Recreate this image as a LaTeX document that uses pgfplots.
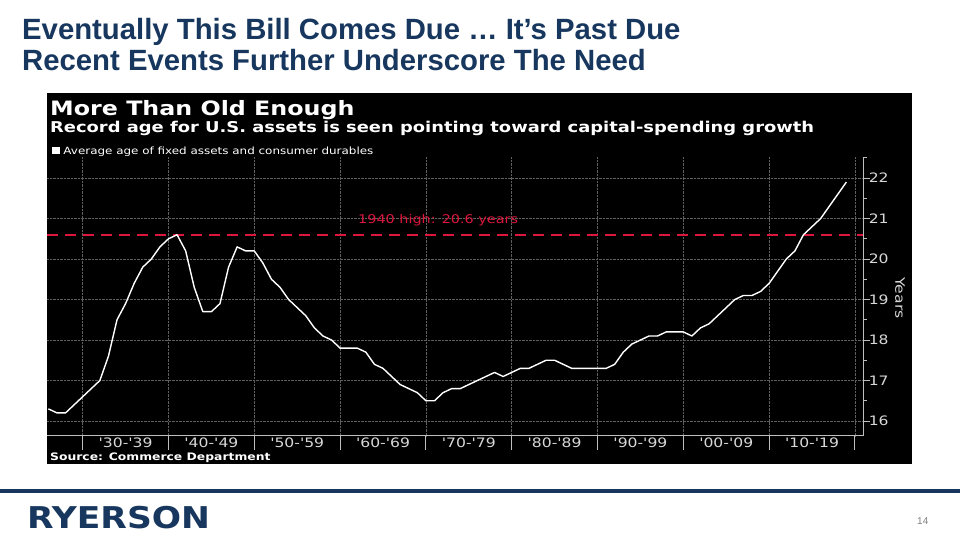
\documentclass[border=0pt]{standalone}
\usepackage{pgfplots}
\pgfplotsset{compat=1.18}
\usepackage{fontspec}
\setmainfont{Liberation Sans}
\newfontfamily\bbg{DejaVu Sans}[FakeStretch=1.2, Ligatures=TeXOff]
\newfontfamily\logo{DejaVu Sans}[FakeStretch=1.15]
\definecolor{navy}{RGB}{23,55,94}
\definecolor{axisgray}{RGB}{190,190,190}
\definecolor{gridgray}{RGB}{95,95,95}
\definecolor{labgray}{RGB}{215,215,215}
\definecolor{bbred}{RGB}{220,22,60}
\begin{document}
\begin{tikzpicture}[x=1pt,y=1pt]
\fill[white] (0,0) rectangle (960,540);
% slide title
\node[anchor=base west, inner sep=0, text=navy, font=\bfseries\fontsize{29.3}{32}\selectfont] at (22,500) {Eventually This Bill Comes Due … It’s Past Due};
\node[anchor=base west, inner sep=0, text=navy, font=\bfseries\fontsize{29.3}{32}\selectfont] at (22,469) {Recent Events Further Underscore The Need};
% chart background
\fill[black] (47,76) rectangle (912,447);
\node[anchor=base west, inner sep=0, text=white, font=\bbg\bfseries\fontsize{19.8}{21}\selectfont] at (50,424) {More Than Old Enough};
\node[anchor=base west, inner sep=0, text=white, font=\bbg\bfseries\fontsize{14.9}{16}\selectfont] at (50,407.5) {Record age for U.S. assets is seen pointing toward capital-spending growth};
\node[anchor=base west, inner sep=0, text=white, font=\bbg\fontsize{9.95}{11}\selectfont] at (52,385.5) {\rule{7.5pt}{7.5pt} Average age of fixed assets and consumer durables};
\node[anchor=base west, inner sep=0, text=white, font=\bbg\bfseries\fontsize{10.3}{12}\selectfont] at (50,79) {Source: Commerce Department};
\begin{axis}[
  at={(47pt,104pt)}, anchor=south west,
  scale only axis, width=816pt, height=279pt,
  xmin=1925.84, xmax=2020.94, ymin=15.63, ymax=22.52,
  axis x line*=bottom, axis y line*=right,
  axis line style={draw=axisgray, line width=1pt},
  xtick={1930,1940,...,2020},
  xticklabels={'30-'39,'40-'49,'50-'59,'60-'69,'70-'79,'80-'89,'90-'99,'00-'09,'10-'19,{}},
  xticklabel style={xshift=42.9pt, yshift=6pt},
  xtick style={draw=axisgray, line width=1pt, /pgfplots/major tick length=14pt},
  xmajorgrids, ymajorgrids,
  grid style={draw=gridgray, densely dotted, line width=0.7pt},
  ytick={16,...,22}, minor ytick={15.5,16.5,...,22.5},
  ytick style={draw=axisgray, line width=1pt, /pgfplots/major tick length=7pt, /pgfplots/minor tick length=4pt},
  tick align=outside,
  tick label style={font=\bbg\fontsize{13}{14}\selectfont, text=labgray},
  yticklabel style={xshift=-2pt},
  /pgf/number format/assume math mode=true,
  clip=false,
]
\addplot[bbred, line width=2.2pt, dash pattern=on 11pt off 7pt] coordinates {(1925.84,20.6) (2020.94,20.6)};
\addplot[white, line width=1.4pt, line join=round] table[x=x, y=y] {
x y
1926 16.3
1927 16.2
1928 16.2
1929 16.4
1930 16.6
1931 16.8
1932 17.0
1933 17.6
1934 18.5
1935 18.9
1936 19.4
1937 19.8
1938 20.0
1939 20.3
1940 20.5
1941 20.6
1942 20.2
1943 19.3
1944 18.7
1945 18.7
1946 18.9
1947 19.8
1948 20.3
1949 20.2
1950 20.2
1951 19.9
1952 19.5
1953 19.3
1954 19.0
1955 18.8
1956 18.6
1957 18.3
1958 18.1
1959 18.0
1960 17.8
1961 17.8
1962 17.8
1963 17.7
1964 17.4
1965 17.3
1966 17.1
1967 16.9
1968 16.8
1969 16.7
1970 16.5
1971 16.5
1972 16.7
1973 16.8
1974 16.8
1975 16.9
1976 17.0
1977 17.1
1978 17.2
1979 17.1
1980 17.2
1981 17.3
1982 17.3
1983 17.4
1984 17.5
1985 17.5
1986 17.4
1987 17.3
1988 17.3
1989 17.3
1990 17.3
1991 17.3
1992 17.4
1993 17.7
1994 17.9
1995 18.0
1996 18.1
1997 18.1
1998 18.2
1999 18.2
2000 18.2
2001 18.1
2002 18.3
2003 18.4
2004 18.6
2005 18.8
2006 19.0
2007 19.1
2008 19.1
2009 19.2
2010 19.4
2011 19.7
2012 20.0
2013 20.2
2014 20.6
2015 20.8
2016 21.0
2017 21.3
2018 21.6
2019 21.9
};
\end{axis}
\node[anchor=base west, inner sep=0, text=bbred, font=\bbg\fontsize{12}{14}\selectfont] at (358,316.5) {1940 high: 20.6 years};
\node[rotate=-90, inner sep=0, text=labgray, font=\bbg\fontsize{13}{16}\selectfont] at (900,242) {Years};
% footer
\fill[navy] (0,47) rectangle (960,51);
\node[anchor=base west, inner sep=0, text=navy, font=\logo\bfseries\fontsize{30}{32}\selectfont] at (27,11) {RYERSON};
\node[anchor=base west, inner sep=0, text=gray, font=\fontsize{10}{12}\selectfont] at (917,15) {14};
\pgfresetboundingbox
\useasboundingbox (0,0) rectangle (960,540);
\end{tikzpicture}
\end{document}
